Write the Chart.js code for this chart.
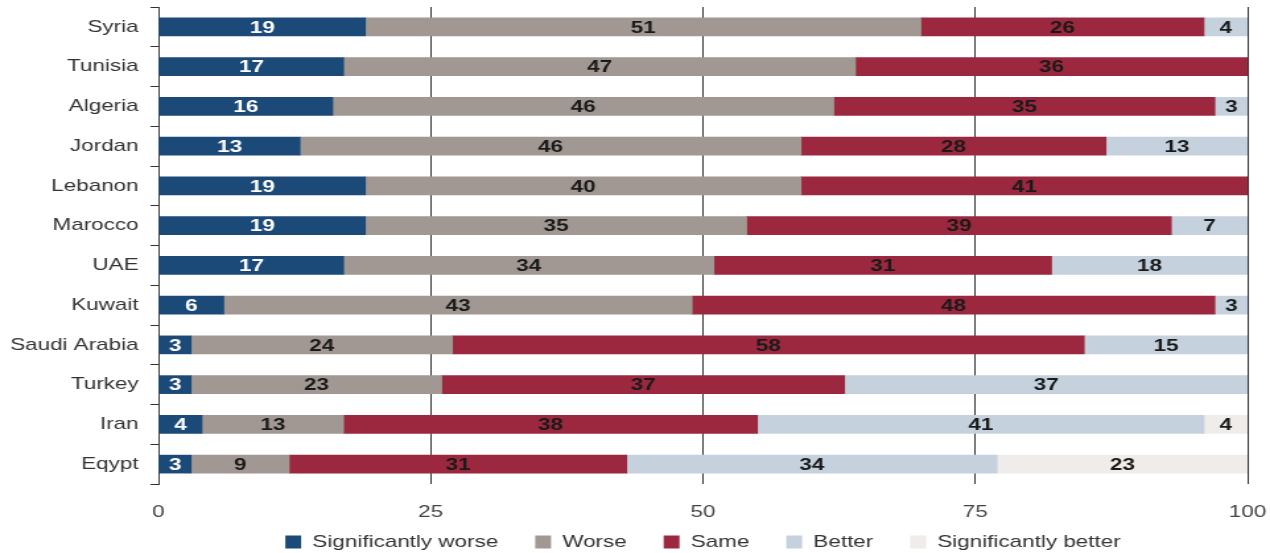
<!DOCTYPE html>
<html>
<head>
<meta charset="utf-8">
<script src="https://cdn.jsdelivr.net/npm/chart.js@4"></script>
<style>
    html, body { margin: 0; padding: 0; background: #fff; }
    #chartBar { display: block; }
</style>
</head>
<body>
<!-- o original vem esticado na horizontal (~1.32x), por isso o canvas e desenhado estreito e ampliado via CSS -->
<canvas id="chartBar" width="962" height="553" style="width:1270px;height:553px"></canvas>
<script>
const paises = ['Syria', 'Tunisia', 'Algeria', 'Jordan', 'Lebanon', 'Marocco', 'UAE', 'Kuwait', 'Saudi Arabia', 'Turkey', 'Iran', 'Eqypt'];
const muitoPior = [19, 17, 16, 13, 19, 19, 17, 6, 3, 3, 4, 3];
const pior = [51, 47, 46, 46, 40, 35, 34, 43, 24, 23, 13, 9];
const igual = [26, 36, 35, 28, 41, 39, 31, 48, 58, 37, 38, 31];
const melhor = [4, 0, 3, 13, 0, 7, 18, 3, 15, 37, 41, 34];
const muitoMelhor = [0, 0, 0, 0, 0, 0, 0, 0, 0, 0, 4, 23];
const legendas = ['Significantly worse', 'Worse', 'Same', 'Better', 'Significantly better'];
const ticksX = [0, 25, 50, 75, 100];

const fonte = '"Liberation Sans", Arial, Helvetica, sans-serif';

document.addEventListener('DOMContentLoaded', () => {
    gerarGraficoBarra();
});

// escreve o valor no meio de cada segmento
const rotulosPlugin = {
    id: 'rotulos',
    afterLayout(chart) {
        // o eixo x fica baixo para a legenda subir; libera o recorte dos rotulos
        chart.scales.x.bottom = chart.height;
    },
    afterDatasetsDraw(chart) {
        const ctx = chart.ctx;
        ctx.save();
        ctx.font = 'bold 17px ' + fonte;
        ctx.textAlign = 'center';
        ctx.textBaseline = 'middle';
        chart.data.datasets.forEach((ds, i) => {
            const meta = chart.getDatasetMeta(i);
            meta.data.forEach((bar, j) => {
                const v = ds.data[j];
                if (!v) return;
                const p = bar.getProps(['x', 'y', 'base'], true);
                ctx.fillStyle = i === 0 ? '#ffffff' : '#1a1a1a';
                ctx.fillText(String(v), (p.x + p.base) / 2, p.y + 1);
            });
        });
        ctx.restore();
    }
};

function gerarGraficoBarra() {
    Chart.defaults.font.family = fonte;

    const cores = ['#1c4a78', '#a19893', '#9b283e', '#c5d2de', '#efece9'];
    const series = [muitoPior, pior, igual, melhor, muitoMelhor];

    const barData = {
        labels: paises,
        datasets: series.map((valores, i) => ({
            label: legendas[i],
            data: valores,
            backgroundColor: cores[i],
            borderWidth: 0,
            barThickness: 18
        }))
    };

    const barConfig = {
        type: 'bar',
        data: barData,
        options: {
            indexAxis: 'y',
            responsive: false,
            animation: false,
            layout: { padding: { top: 7, right: 17, bottom: -7.5, left: 0 } },
            scales: {
                x: {
                    stacked: true,
                    min: 0,
                    max: 100,
                    afterBuildTicks: (s) => { s.ticks = ticksX.map(v => ({ value: v })); },
                    afterFit: (s) => { s.height = 21.5; s.paddingLeft = 0; s.paddingRight = 0; },
                    grid: { color: '#333', lineWidth: 1, drawTicks: false },
                    border: { display: false },
                    ticks: { color: '#444', font: { size: 17 }, padding: 18 }
                },
                y: {
                    stacked: true,
                    afterFit: (s) => { s.width = 120; s.paddingTop = 0; s.paddingBottom = 0; },
                    grid: { offset: true, drawOnChartArea: false, color: '#333', tickLength: 6 },
                    border: { display: true, color: '#333', width: 1 },
                    ticks: { color: '#333', font: { size: 17 }, padding: 9 }
                }
            },
            plugins: {
                legend: {
                    position: 'bottom',
                    fullSize: false,
                    labels: { boxWidth: 12, boxHeight: 13, padding: 28, color: '#333', font: { size: 17 } }
                },
                tooltip: { enabled: false }
            }
        },
        plugins: [rotulosPlugin]
    };

    const barCtx = document.getElementById('chartBar');
    return new Chart(barCtx, barConfig);
}
</script>
</body>
</html>
